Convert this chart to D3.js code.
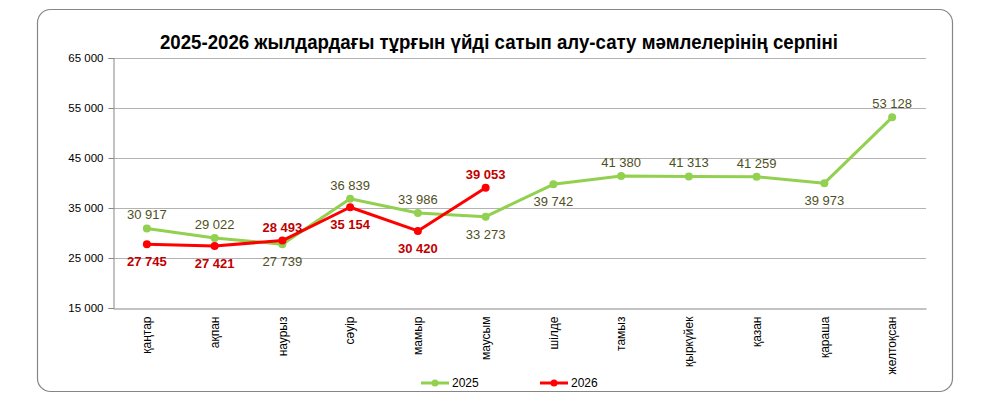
<!DOCTYPE html>
<html><head><meta charset="utf-8">
<script src="https://cdn.jsdelivr.net/npm/d3@7"></script>
<style>body{margin:0;background:#fff}svg{display:block;font-family:"Liberation Sans",Arial,sans-serif}</style>
</head><body><svg id="c" width="984" height="407"></svg>
<script>
const titleText = "2025-2026 жылдардағы тұрғын үйді сатып алу-сату мәмлелерінің серпіні";
const months = ["қаңтар","ақпан","наурыз","сәуір","мамыр","маусым","шілде","тамыз","қыркүйек","қазан","қараша","желтоқсан"];
const values2025 = [30917,29022,27739,36839,33986,33273,39742,41380,41313,41259,39973,53128];
const values2026 = [27745,27421,28493,35154,30420,39053];
const below2025 = [false,false,true,false,false,true,true,false,false,false,true,false];
const below2026 = [true,true,false,true,true,false];
const yTicks = [15000,25000,35000,45000,55000,65000];
const seriesNames = ["2025","2026"];

const svg = d3.select("#c");
svg.append("rect").attr("x",37.5).attr("y",9.5).attr("width",915).attr("height",382)
  .attr("rx",13).attr("fill","#fff").attr("stroke","#868686").attr("stroke-width",1.2);

svg.append("text").attr("x",499).attr("y",49).attr("text-anchor","middle")
  .attr("font-size",20).attr("font-weight","bold").attr("fill","#000")
  .attr("textLength",678).attr("lengthAdjust","spacingAndGlyphs").text(titleText);

const L=113, R=926, T=58, B=308;
const x = d3.scaleBand().domain(months).range([L,R]);
const y = d3.scaleLinear().domain([15000,65000]).range([B,T]);
const fmt = v => d3.format(",")(v).replace(/,/g," ");

// grid
svg.append("g").selectAll("line").data(yTicks.filter(t=>t>15000)).join("line")
  .attr("x1",L).attr("x2",R).attr("y1",d=>Math.round(y(d))+0.5).attr("y2",d=>Math.round(y(d))+0.5)
  .attr("stroke","#b3b3b3").attr("stroke-width",1);

// y axis
const ya = svg.append("g").attr("transform",`translate(${L+0.5},0)`)
  .call(d3.axisLeft(y).tickValues(yTicks).tickFormat(fmt).tickSize(5).tickPadding(5));
ya.select(".domain").attr("stroke","#868686");
ya.selectAll(".tick line").attr("stroke","#868686");
ya.selectAll("text").attr("font-size",11.5).attr("fill","#000").attr("font-family","Liberation Sans, Arial, sans-serif");

// x axis
const xa = svg.append("g").attr("transform",`translate(0,${B+0.5})`)
  .call(d3.axisBottom(x).tickSize(0).tickPadding(0));
xa.select(".domain").attr("stroke","#868686");
xa.selectAll("text").attr("font-size",12).attr("fill","#000").attr("font-family","Liberation Sans, Arial, sans-serif")
  .attr("transform","rotate(-90)").attr("text-anchor","end").attr("dy","0.35em").attr("x",-8).attr("y",0);

const cx = d => x(d)+x.bandwidth()/2;
const line = d3.line().x(d=>cx(d.m)).y(d=>y(d.v));
const d25 = values2025.map((v,i)=>({m:months[i],v,b:below2025[i]}));
const d26 = values2026.map((v,i)=>({m:months[i],v,b:below2026[i]}));

function drawSeries(data,color,labelColor,bold){
  svg.append("path").datum(data).attr("d",line).attr("fill","none").attr("stroke",color)
    .attr("stroke-width",3).attr("stroke-linejoin","round");
  svg.append("g").selectAll("circle").data(data).join("circle")
    .attr("cx",d=>cx(d.m)).attr("cy",d=>y(d.v)).attr("r",4).attr("fill",color);
  svg.append("g").selectAll("text").data(data).join("text")
    .attr("x",d=>cx(d.m)).attr("y",d=>d.b? y(d.v)+22 : y(d.v)-9)
    .attr("text-anchor","middle").attr("font-size",13).attr("font-weight",bold?"bold":"normal")
    .attr("fill",labelColor).text(d=>fmt(d.v));
}
drawSeries(d25,"#92d050","#4f4f24",false);
drawSeries(d26,"#ff0000","#c00000",true);

// legend
const leg = [{n:seriesNames[0],c:"#92d050",x:421},{n:seriesNames[1],c:"#ff0000",x:540}];
const lg = svg.append("g");
leg.forEach(l=>{
  lg.append("line").attr("x1",l.x).attr("x2",l.x+28).attr("y1",383).attr("y2",383).attr("stroke",l.c).attr("stroke-width",3);
  lg.append("circle").attr("cx",l.x+14).attr("cy",383).attr("r",3.5).attr("fill",l.c);
  lg.append("text").attr("x",l.x+31).attr("y",387).attr("font-size",12).attr("fill","#000").text(l.n);
});
</script></body></html>
